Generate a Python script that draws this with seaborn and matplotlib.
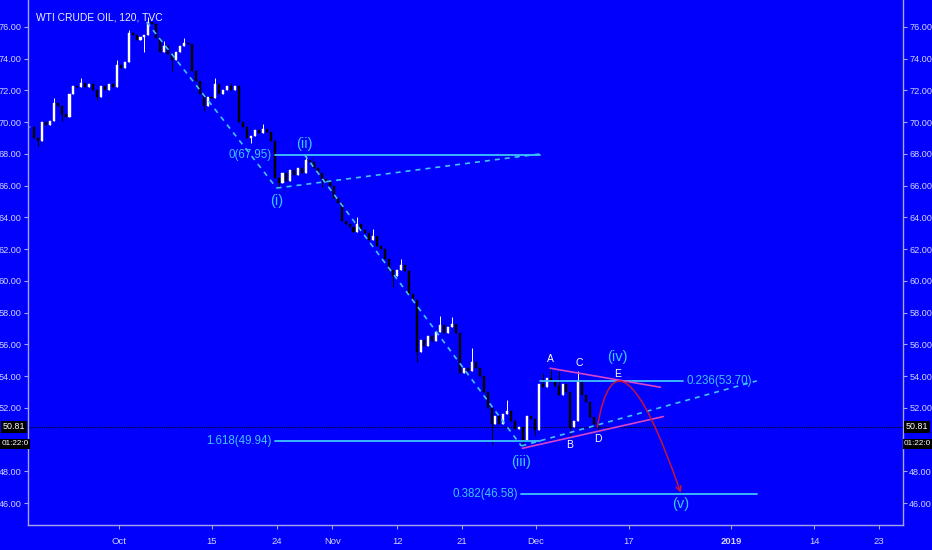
import numpy as np
import pandas as pd
import matplotlib
matplotlib.use("Agg")
import matplotlib.pyplot as plt
from matplotlib.path import Path
from matplotlib.patches import FancyArrowPatch
import seaborn as sns

# ── 1. Data ───────────────────────────────────────────────────────────────────
# closes of coarse bars, one every bar_step trading days (Oct 1 = day 0)
first_bar_day = -9.6
bar_step = 0.4255
closes = [
    69.7, 69.0, 68.8, 70.0, 69.8, 70.1, 71.2, 71.0, 70.5, 70.3, 71.8,
    72.3, 72.2, 72.5, 72.2, 72.4, 72.0, 71.6, 72.3, 72.0, 72.4, 72.2, 73.6,
    73.4, 73.8, 75.6, 75.5, 75.2, 75.4, 75.5, 76.3, 76.2, 75.3, 74.4, 74.8,
    74.3, 73.9, 74.4, 74.8, 75.0, 74.9,
    73.2, 72.6, 71.8, 71.0, 71.6, 71.5, 72.4, 71.8, 72.0, 72.3, 72.0, 72.3,
    70.0, 69.7, 69.0, 69.1, 69.5, 69.3, 69.6, 69.4, 68.8,
    66.5, 66.2, 66.8, 66.3, 67.0, 66.7, 67.1, 66.8, 67.6, 67.5, 67.1, 66.8,
    66.4, 66.3, 66.0, 65.2, 64.9, 63.8, 63.6, 63.4, 63.1, 63.6, 63.2, 63.0,
    62.6, 62.8, 62.2, 62.0, 61.4, 60.7, 60.3, 60.7, 61.0, 60.6, 59.2, 58.8,
    55.5, 56.3, 55.9, 56.5, 56.2, 56.8, 57.2, 56.7, 57.1, 57.3, 56.7, 54.2,
    54.5, 54.3, 54.9, 54.5, 54.0, 53.0, 52.0, 51.0, 51.5, 51.0, 51.6, 51.8,
    51.2, 50.7, 50.8, 50.0, 51.5, 51.3, 50.6, 53.5, 53.3, 53.9, 53.6, 53.4,
    52.8, 53.5, 53.0, 50.8, 51.2, 53.7, 52.8, 52.4, 51.4, 51.0, 50.81,
]
# notable wick extremes (bar index -> price)
spike_hi = {6: 71.5, 13: 72.8, 22: 73.9, 25: 75.8, 30: 76.6, 34: 75.1, 39: 75.3,
            47: 72.8, 51: 72.5, 59: 69.9, 70: 67.95, 83: 64.0, 87: 63.3, 94: 61.4,
            104: 57.8, 107: 57.7, 112: 55.8, 121: 52.5, 130: 54.2, 132: 54.5,
            134: 54.3, 139: 54.3}
spike_lo = {2: 68.5, 8: 70.1, 17: 71.4, 29: 74.4, 36: 73.2, 44: 70.7, 56: 68.7,
            63: 65.85, 74: 65.9, 92: 59.6, 98: 54.9, 117: 49.7, 125: 49.6,
            128: 50.3, 137: 50.2, 144: 50.6}

last_price = 50.81
timer_text = "01:22:0"

tick_days = [0, 10, 17, 23, 30, 37, 45, 55, 66, 75, 82]
tick_labels = ["Oct", "15", "24", "Nov", "12", "21", "Dec", "17", "2019", "14", "23"]
price_ticks = list(range(46, 78, 2))

# Elliott wave points
wave_labels = ["(i)", "(ii)", "(iii)", "(iv)", "(v)"]
wave_days = [17.0, 20.0, 43.4, 53.8, 60.6]
wave_prices = [65.85, 67.95, 49.6, 53.75, 46.65]
wave_offsets = [(0, -13), (0, 11), (0, -16), (0, 23), (0, -11)]

abcde_labels = ["A", "B", "C", "D", "E"]
abcde_days = [46.5, 48.65, 49.5, 51.7, 53.8]
abcde_prices = [54.5, 50.2, 54.3, 50.8, 53.7]
abcde_offsets = [(0, 9), (0, -9), (1, 8), (0, -12), (0, 7)]

# fibonacci levels
fib_names = ["0", "1.618", "0.236", "0.382"]
fib_levels = [67.95, 49.94, 53.70, 46.58]
fib_start = [16.8, 16.8, 45.4, 43.4]
fib_end = [45.4, 45.4, 60.8, 68.8]
fib_label_side = ["left", "left", "right", "left"]

# dashed trend lines (day pairs, price pairs)
dash_days = [(3.0, 17.0), (17.0, 45.4), (20.0, 43.4), (43.4, 68.8)]
dash_prices = [(76.3, 65.85), (65.85, 68.0), (67.95, 49.6), (49.6, 53.7)]

# triangle boundaries
tri_days = [(46.5, 58.4), (43.5, 58.7)]
tri_prices = [(54.5, 53.3), (49.45, 51.45)]

# projected (iv) -> (v) path: start, control, end
iv_path_days = [51.6, 53.73, 60.6]
iv_path_prices = [50.8, 58.16, 46.65]

# ── 2. Style ──────────────────────────────────────────────────────────────────
BG = "#0000fc"
AXC = "#a4a4e6"
TXT = "#d2d4ff"
CYAN = "#3ec4ff"
MAGENTA = "#d844c8"
RED = "#c8143c"

sns.set_style("ticks", {"axes.facecolor": BG, "figure.facecolor": BG})
plt.rcParams["font.family"] = ["Liberation Sans", "DejaVu Sans"]

W, H = 932, 550
fig = plt.figure(figsize=(W / 100, H / 100), dpi=100)
ax = fig.add_axes([28 / W, 25 / H, 875 / W, 525 / H])
ax.set_facecolor(BG)

# ── 3. Candles ────────────────────────────────────────────────────────────────
bars = pd.DataFrame({"close": closes})
bars["day"] = first_bar_day + bar_step * bars.index
bars["open"] = bars["close"].shift(1).fillna(bars["close"].iloc[0])
bars["high"] = bars[["open", "close"]].max(axis=1)
bars["low"] = bars[["open", "close"]].min(axis=1)
for i, v in spike_hi.items():
    bars.loc[i, "high"] = max(bars.loc[i, "high"], v)
for i, v in spike_lo.items():
    bars.loc[i, "low"] = min(bars.loc[i, "low"], v)
up = bars["close"] >= bars["open"]

for mask, col in [(up, "white"), (~up, "black")]:
    b = bars[mask]
    ax.vlines(b["day"], b["low"], b["high"], color=col, lw=0.7, zorder=3)
    ax.bar(b["day"], b["close"] - b["open"], bottom=b["open"], width=0.22,
           color=col, edgecolor=col, lw=0.3, zorder=3)

# current price line
ax.axhline(last_price, color="black", lw=0.8, ls=(0, (1, 1)), zorder=2)

# ── 4. Fibonacci levels ───────────────────────────────────────────────────────
for name, lvl, s, e, side in zip(fib_names, fib_levels, fib_start, fib_end, fib_label_side):
    sns.lineplot(x=[s, e], y=[lvl, lvl], ax=ax, color=CYAN, lw=1.3, zorder=4)
    txt = f"{name}({lvl:.2f})"
    if side == "left":
        ax.annotate(txt, (s, lvl), xytext=(-3, 0), textcoords="offset pixels",
                    ha="right", va="center", color=CYAN, fontsize=8.3, zorder=5)
    else:
        ax.annotate(txt, (e, lvl), xytext=(4, 0), textcoords="offset pixels",
                    ha="left", va="center", color=CYAN, fontsize=8.3, zorder=5)

# ── 5. Trend lines ────────────────────────────────────────────────────────────
for dd, pp in zip(dash_days, dash_prices):
    sns.lineplot(x=list(dd), y=list(pp), ax=ax, color=CYAN, lw=1.2,
                 linestyle=(0, (3, 3)), zorder=4)
for dd, pp in zip(tri_days, tri_prices):
    sns.lineplot(x=list(dd), y=list(pp), ax=ax, color=MAGENTA, lw=1.2, zorder=5)

path = Path(list(zip(iv_path_days, iv_path_prices)),
            [Path.MOVETO, Path.CURVE3, Path.CURVE3])
arrow = FancyArrowPatch(path=path, arrowstyle="->", mutation_scale=9,
                        color=RED, lw=1.1, zorder=6)
ax.add_patch(arrow)

# ── 6. Labels ─────────────────────────────────────────────────────────────────
for lab, d, p, off in zip(wave_labels, wave_days, wave_prices, wave_offsets):
    ax.annotate(lab, (d, p), xytext=off, textcoords="offset pixels",
                ha="center", va="center", color=CYAN, fontsize=10.5, zorder=7)
for lab, d, p, off in zip(abcde_labels, abcde_days, abcde_prices, abcde_offsets):
    ax.annotate(lab, (d, p), xytext=off, textcoords="offset pixels",
                ha="center", va="center", color="white", fontsize=7.5, zorder=7)

fig.text(36 / W, 1 - 17 / H, "WTI CRUDE OIL, 120, TVC", color="#eeeeff",
         fontsize=7.4, ha="left", va="center")

# ── 7. Axes ───────────────────────────────────────────────────────────────────
ax.set_xlim(-9.82, 84.57)
ax.set_ylim(44.62, 77.70)
ax.set_xticks(tick_days)
ax.set_xticklabels(tick_labels)
ax.set_yticks(price_ticks)
# the 50.00 label sits under the countdown tag in the reference
ax.set_yticklabels(["" if v == 50 else f"{v:.2f}" for v in price_ticks])
ax.xaxis.get_ticklabels()[tick_labels.index("2019")].set_fontweight("bold")
ax.tick_params(axis="y", left=True, right=True, labelleft=True, labelright=True,
               length=3, width=0.8, color=AXC, labelcolor=TXT, labelsize=6.6, pad=1.5)
ax.tick_params(axis="x", length=3, width=0.8, color=AXC, labelcolor=TXT,
               labelsize=6.8, pad=6)
ax.spines["top"].set_visible(False)
for s in ["left", "right", "bottom"]:
    ax.spines[s].set_color(AXC)
    ax.spines[s].set_linewidth(1.0)
ax.set_xlabel("")
ax.set_ylabel("")

# price / countdown tags on both sides (pixel placement from the reference)
y_tag = ax.transData.transform((0, last_price))[1] / H
y_timer = y_tag - 17 / H
tag_box = dict(boxstyle="square,pad=0.18", fc="black", ec="none")
fig.text(25 / W, y_tag, f"{last_price:.2f}", ha="right", va="center",
         color="white", fontsize=6.4, bbox=tag_box)
fig.text(906 / W, y_tag, f"{last_price:.2f}", ha="left", va="center",
         color="white", fontsize=6.4, bbox=tag_box)
fig.text(1.5 / W, y_timer, timer_text, ha="left", va="center",
         color="white", fontsize=5.9, bbox=tag_box)
fig.text(904 / W, y_timer, timer_text, ha="left", va="center",
         color="white", fontsize=5.9, bbox=tag_box)

fig.savefig("out.png", dpi=100, facecolor=BG)
